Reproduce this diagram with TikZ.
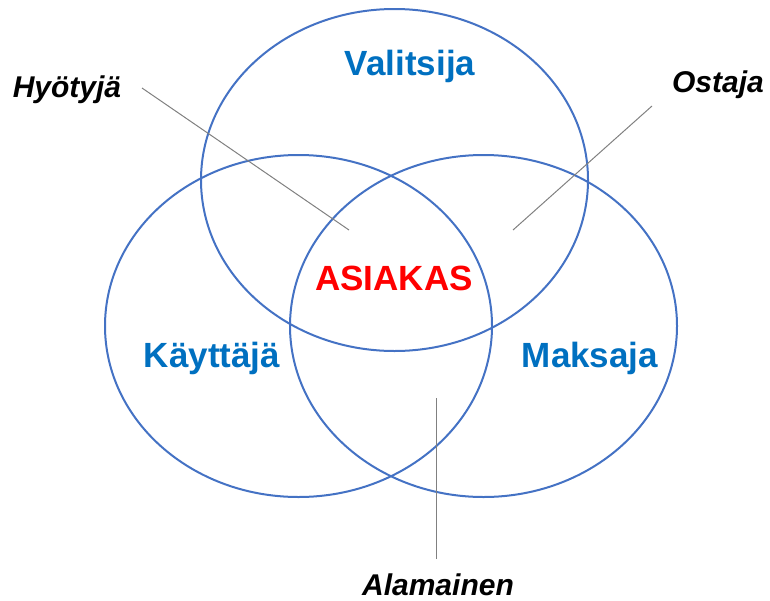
\documentclass[tikz,border=0pt]{standalone}
\usepackage{fontspec}
\setmainfont{Liberation Sans}
\usepackage{tikz}
\usetikzlibrary{shapes.geometric, positioning}
\definecolor{ringblue}{RGB}{68,114,196}
\definecolor{roleblue}{RGB}{0,112,192}
\definecolor{pointergray}{RGB}{128,128,128}

\tikzset{
  role/.style={ellipse, draw=ringblue, line width=2pt, minimum width=387pt, minimum height=342pt, inner sep=0pt},
  rolelabel/.style={anchor=base, inner sep=0pt, text=roleblue, font=\fontsize{35}{40}\selectfont\bfseries},
  sidelabel/.style={anchor=base, inner sep=0pt, text=black, font=\fontsize{30}{36}\selectfont\bfseries\itshape},
  pointer/.style={draw=pointergray, line width=1pt}
}

\begin{document}
\begin{tikzpicture}[x=1pt,y=-1pt]
\useasboundingbox (0,0) rectangle (770,600);

\node[role] (V) at (394.5,180) {};
\node[role] (K) at (298.5,326) {};
\node[role] (M) at (483.5,326) {};

\node[rolelabel] (Vt) at (410,75) {Valitsija};
\node[rolelabel] (Kt) at (212,367) {Käyttäjä};
\node[rolelabel] (Mt) at (590,367) {Maksaja};
\node[rolelabel, text=red] (A) at (394,290) {ASIAKAS};

\node[sidelabel] (H) at (67,97) {Hyötyjä};
\node[sidelabel] (O) at (718,92) {Ostaja};
\node[sidelabel] (L) at (438,595) {Alamainen};

\coordinate (H0) at (142,88);
\coordinate (H1) at (349,230);
\coordinate (O0) at (652,106);
\coordinate (O1) at (513,230);
\coordinate (L0) at (436,559);
\coordinate (L1) at (436,398);

\draw[pointer] (H0) -- (H1);
\draw[pointer] (O0) -- (O1);
\draw[pointer] (L0) -- (L1);
\end{tikzpicture}
\end{document}
